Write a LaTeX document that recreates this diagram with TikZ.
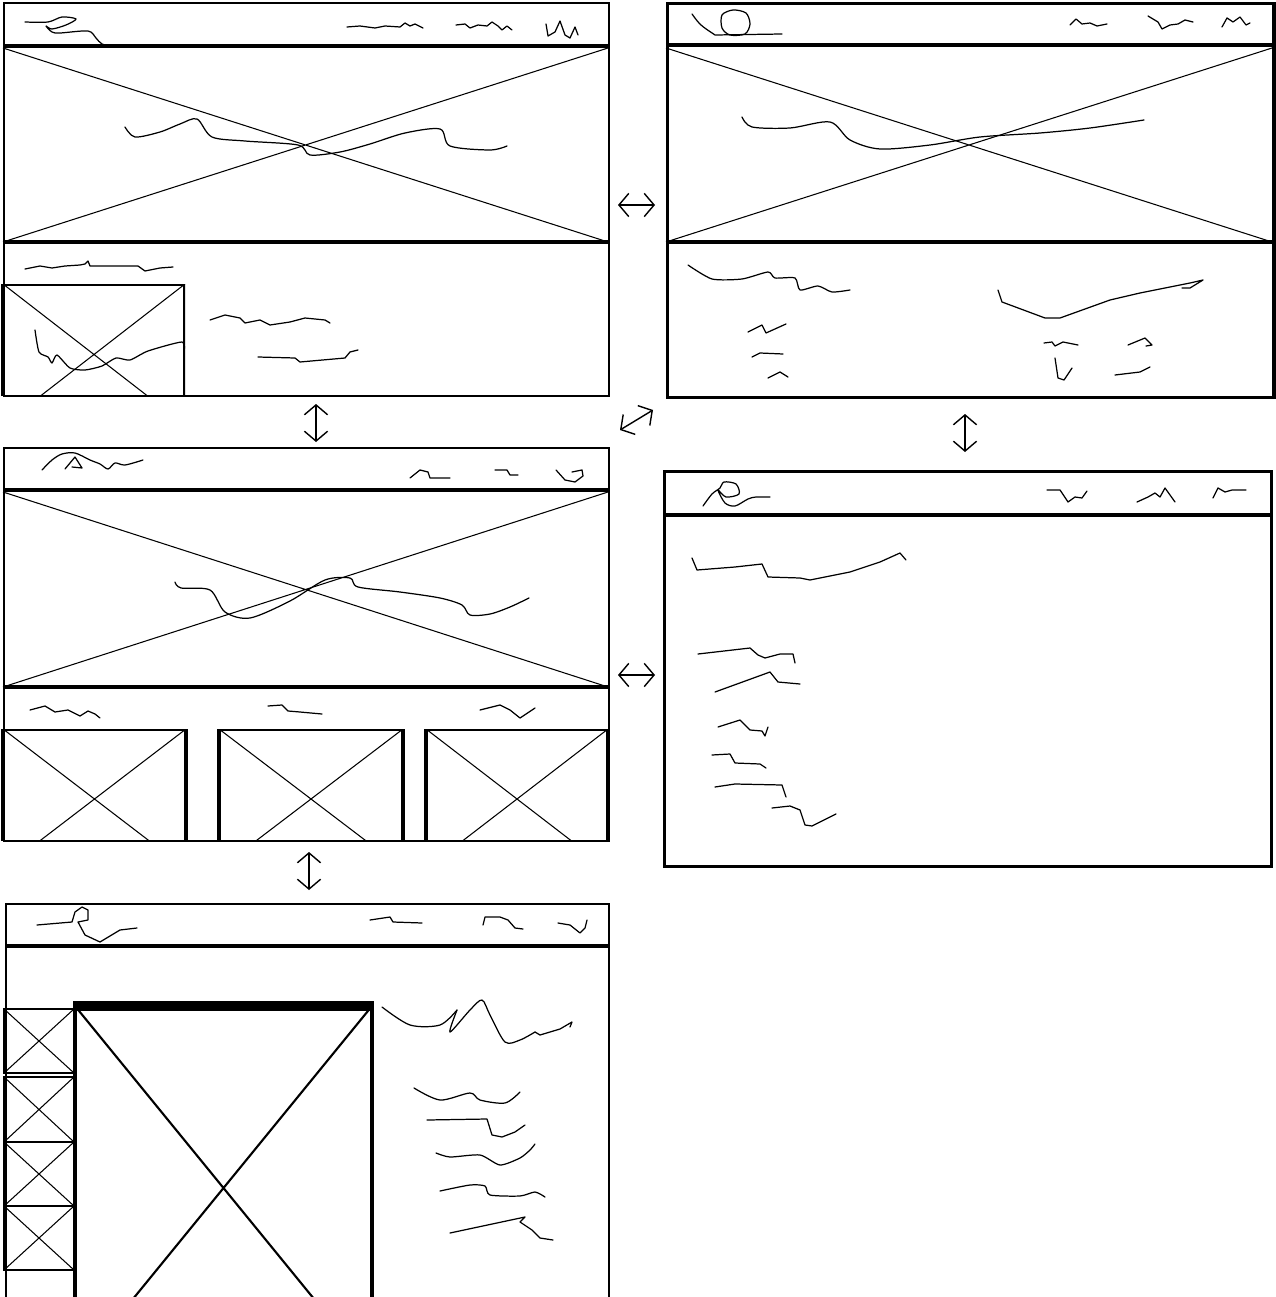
\documentclass[tikz,border=0pt]{standalone}
\usetikzlibrary{arrows.meta}
\begin{document}
\begin{tikzpicture}[x=0.01cm, y=-0.01cm,
  screen/.style={draw, line width=0.6pt, anchor=north west, inner sep=0pt},
  bar/.style={line width=0.9pt},
  cross/.style={line width=0.3pt},
  thumb/.style={draw, line width=1pt},
  ink/.style={line width=0.35pt, line join=round, line cap=round},
  flow/.style={{Straight Barb[length=2.8pt,width=6.6pt]}-{Straight Barb[length=2.8pt,width=6.6pt]}, line width=0.4pt}]
  \useasboundingbox (0,0) rectangle (1275,1297);

  \node[screen, minimum width=6.05cm, minimum height=3.93cm] (home) at (3,2) {};
  \node[screen, line width=0.9pt, minimum width=6.06cm, minimum height=3.94cm] (article) at (666,2) {};
  \node[screen, minimum width=6.05cm, minimum height=3.93cm] (catalog) at (3,447) {};
  \node[screen, line width=0.8pt, minimum width=6.07cm, minimum height=3.95cm] (textpage) at (663,470) {};
  \node[screen, minimum width=6.03cm, minimum height=3.94cm] (product) at (5,903) {};

  \coordinate (homeR) at (618,205);   \coordinate (articleL) at (655,205);
  \coordinate (homeB) at (316,404);   \coordinate (catalogT) at (316,442);
  \coordinate (catalogNE) at (620,430); \coordinate (articleSW) at (653,410);
  \coordinate (articleB) at (965,414); \coordinate (textpageT) at (965,452);
  \coordinate (catalogR) at (618,675); \coordinate (textpageL) at (655,675);
  \coordinate (catalogB) at (309,852); \coordinate (productT) at (309,890);
  \draw[flow] (homeR) -- (articleL);
  \draw[flow] (homeB) -- (catalogT);
  \draw[flow] (catalogNE) -- (articleSW);
  \draw[flow] (articleB) -- (textpageT);
  \draw[flow] (catalogR) -- (textpageL);
  \draw[flow] (catalogB) -- (productT);

  % home
  \draw[bar] (3,46) -- (608,46) (3,242) -- (608,242);
  \draw[cross] (3,48) -- (608,242) (3,242) -- (608,48);
  \begin{scope}
    \clip (0,284) rectangle (185,395);
    \draw[thumb] (3,284) rectangle (185,425);
    \draw[cross] (3,284) -- (185,425) (3,425) -- (185,284);
  \end{scope}
  \draw[ink] plot[smooth, tension=0.5] coordinates {(25,22) (48,22) (62,17) (76,19) (66,25) (52,29) (46,26) (52,32) (60,33) (88,31) (96,38) (102,44) (114,47)};
  \draw[ink] (347,27) -- (360,26) -- (375,28) -- (385,26) -- (400,27) -- (405,23) -- (410,26) -- (415,24) -- (423,28);
  \draw[ink] (456,25) -- (465,24) -- (470,28) -- (478,25) -- (487,26) -- (492,22) -- (498,26) -- (502,30) -- (507,26) -- (512,30);
  \draw[ink] (546,24) -- (548,36) -- (555,32) -- (560,21) -- (565,35) -- (570,38) -- (575,27) -- (578,35);
  \draw[ink] plot[smooth, tension=0.5] coordinates {(125,127) (135,137) (160,132) (180,124) (197,119) (212,137) (245,141) (298,145) (310,155) (340,152) (370,144) (405,133) (440,129) (450,146) (490,150) (507,146)};
  \draw[ink] (25,269) -- (40,266) -- (52,268) -- (65,266) -- (80,265) -- (85,264) -- (88,261) -- (90,266) -- (138,266) -- (145,271) -- (160,268) -- (173,267);
  \draw[ink] plot[smooth, tension=0.4] coordinates {(35,330) (39,352) (48,357) (52,363) (57,355) (70,368) (85,370) (102,366) (116,358) (130,360) (148,351) (182,342) (184,352)};
  \draw[ink] (210,320) -- (225,315) -- (240,318) -- (245,323) -- (260,320) -- (270,325) -- (290,322) -- (305,318) -- (325,320) -- (330,323);
  \draw[ink] (258,357) -- (295,358) -- (300,362) -- (345,358) -- (350,352) -- (358,350);

  % article
  \draw[bar] (666,45) -- (1272,45) (666,242) -- (1272,242);
  \draw[cross] (666,48) -- (1272,242) (666,242) -- (1272,48);
  \draw[ink] (692,14) .. controls (700,25) .. (715,35) -- (782,34);
  \draw[ink] plot[smooth cycle] coordinates {(722,15) (733,10) (746,13) (750,24) (745,34) (730,35) (722,28)};
  \draw[ink] (1070,25) -- (1076,19) -- (1082,24) -- (1090,23) -- (1097,26) -- (1107,24);
  \draw[ink] (1148,16) -- (1158,22) -- (1162,29) -- (1170,25) -- (1178,24) -- (1185,20) -- (1193,22);
  \draw[ink] (1222,27) -- (1227,18) -- (1233,22) -- (1240,17) -- (1246,25) -- (1250,23);
  \draw[ink] plot[smooth, tension=0.5] coordinates {(742,117) (752,127) (790,128) (830,122) (850,140) (880,149) (930,145) (980,137) (1040,133) (1090,128) (1144,120)};
  \draw[ink] plot[smooth, tension=0.4] coordinates {(688,265) (712,279) (742,279) (768,272) (775,278) (795,278) (800,290) (818,286) (832,292) (850,290)};
  \draw[ink] (998,290) -- (1002,302) -- (1045,318) -- (1060,318) -- (1110,300) -- (1140,293) -- (1190,283) -- (1203,280) -- (1190,288) -- (1182,288);
  \draw[ink] (748,332) -- (762,325) -- (766,333) -- (786,324);
  \draw[ink] (752,357) -- (760,353) -- (783,354);
  \draw[ink] (768,378) -- (780,372) -- (788,377);
  \draw[ink] (1044,343) -- (1052,342) -- (1055,346) -- (1063,342) -- (1078,345);
  \draw[ink] (1128,345) -- (1145,338) -- (1152,345) -- (1146,346);
  \draw[ink] (1055,358) -- (1058,378) -- (1064,380) -- (1072,368);
  \draw[ink] (1115,375) -- (1140,372) -- (1150,367);

  % catalog
  \draw[bar] (3,490) -- (608,490) (3,687) -- (608,687);
  \draw[cross] (3,492) -- (608,687) (3,687) -- (608,492);
  \begin{scope}
    \clip (0,729) rectangle (610,840);
    \foreach \bx/\ex in {3/186, 219/403, 426/608} {
      \draw[thumb] (\bx,729) rectangle (\ex,869);
      \draw[cross] (\bx,729) -- (\ex,869) (\bx,869) -- (\ex,729);
    }
  \end{scope}
  \draw[ink] plot[smooth, tension=0.5] coordinates {(42,470) (52,460) (62,454) (75,453) (90,460) (100,464) (108,469) (115,463) (125,465) (143,460)};
  \draw[ink] (65,469) -- (75,457) -- (82,468) -- (72,467);
  \draw[ink] (410,478) -- (420,470) -- (428,472) -- (430,478) -- (450,478);
  \draw[ink] (495,470) -- (507,470) -- (510,475) -- (518,475);
  \draw[ink] (556,470) -- (565,480) -- (575,482) -- (583,476) -- (582,470) -- (572,472);
  \draw[ink] plot[smooth, tension=0.5] coordinates {(175,582) (181,588) (210,590) (225,612) (250,618) (290,601) (325,580) (350,578) (358,587) (400,592) (440,598) (462,605) (470,615) (490,614) (510,607) (529,598)};
  \draw[ink] (30,710) -- (45,706) -- (55,712) -- (68,710) -- (80,716) -- (88,711) -- (95,714) -- (100,718);
  \draw[ink] (268,706) -- (282,705) -- (288,711) -- (300,712) -- (322,714);
  \draw[ink] (480,710) -- (500,705) -- (510,710) -- (520,718) -- (535,708);

  % textpage
  \draw[bar] (663,515) -- (1270,515);
  \draw[ink] plot[smooth, tension=0.5] coordinates {(703,506) (712,494) (720,488) (724,482) (736,484) (739,494) (726,497) (718,490) (725,503) (735,506) (748,499) (756,497) (770,497)};
  \draw[ink] (1047,490) -- (1060,490) -- (1068,502) -- (1075,497) -- (1082,498) -- (1087,491);
  \draw[ink] (1137,502) -- (1148,497) -- (1155,493) -- (1160,497) -- (1165,488) -- (1175,502);
  \draw[ink] (1213,498) -- (1218,488) -- (1225,492) -- (1232,490) -- (1246,490);
  \draw[ink] (692,558) -- (697,570) -- (735,567) -- (762,564) -- (768,577) -- (800,578) -- (810,580) -- (850,572) -- (880,562) -- (900,553) -- (906,560);
  \draw[ink] (698,654) -- (750,648) -- (758,655) -- (765,658) -- (780,654) -- (793,654) -- (795,663);
  \draw[ink] (715,692) -- (770,672) -- (778,682) -- (800,684);
  \draw[ink] (718,727) -- (740,720) -- (750,730) -- (762,731) -- (765,736) -- (768,727);
  \draw[ink] (712,755) -- (730,754) -- (735,763) -- (760,764) -- (766,768);
  \draw[ink] (715,787) -- (735,784) -- (782,785) -- (786,797);
  \draw[ink] (772,808) -- (790,806) -- (800,810) -- (805,825) -- (812,826) -- (836,814);

  % product
  \draw[bar] (5,946) -- (608,946);
  \foreach \ty/\tb in {1009/1073, 1077/1142, 1142/1206, 1206/1270} {
    \draw[thumb, line width=0.7pt] (4,\ty) rectangle (74,\tb);
    \draw[cross] (4,\ty) -- (74,\tb) (4,\tb) -- (74,\ty);
  }
  \begin{scope}
    \clip (60,990) rectangle (390,1297);
    \draw[line width=1.3pt] (75,1006) rectangle (372,1370);
    \fill (73,1001) rectangle (374,1011);
    \draw[line width=0.6pt] (75,1006) -- (372,1370) (75,1370) -- (372,1006);
  \end{scope}
  \draw[ink] (37,925) -- (72,922) -- (75,912) -- (82,907) -- (88,910) -- (88,920) -- (78,922) -- (85,935) -- (100,942) -- (120,930) -- (137,928);
  \draw[ink] (370,920) -- (390,917) -- (393,922) -- (422,923);
  \draw[ink] (483,925) -- (485,917) -- (500,917) -- (508,920) -- (515,928) -- (523,929);
  \draw[ink] (558,923) -- (570,925) -- (580,933) -- (585,928) -- (587,920);
  \draw[ink] plot[smooth, tension=0.5] coordinates {(382,1007) (410,1025) (440,1025) (457,1010)};
  \draw[ink] plot[smooth, tension=0.5] coordinates {(457,1010) (450,1032) (470,1010) (482,1000) (490,1015) (505,1042) (520,1040) (535,1032)};
  \draw[ink] (535,1032) -- (540,1035) -- (560,1029) -- (572,1022) -- (570,1027);
  \draw[ink] plot[smooth, tension=0.5] coordinates {(414,1088) (440,1100) (470,1093) (480,1100) (505,1103) (520,1092)};
  \draw[ink] (427,1120) -- (487,1119) -- (492,1135) -- (502,1137) -- (515,1132) -- (525,1125);
  \draw[ink] plot[smooth, tension=0.4] coordinates {(436,1153) (450,1157) (480,1155) (500,1165) (520,1158) (530,1150) (535,1144)};
  \draw[ink] plot[smooth, tension=0.4] coordinates {(440,1191) (470,1185) (485,1186) (490,1195) (520,1196) (535,1192) (545,1197)};
  \draw[ink] (450,1233) -- (525,1217) -- (520,1222) -- (532,1230) -- (540,1238) -- (553,1240);
\end{tikzpicture}
\end{document}
